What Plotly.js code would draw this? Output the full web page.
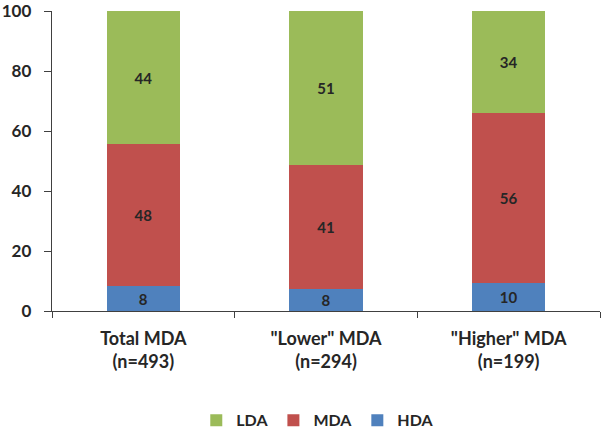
<!DOCTYPE html>
<html><head><meta charset="utf-8">
<script src="https://cdn.plot.ly/plotly-3.0.1.min.js"></script>
<style>html,body{margin:0;padding:0;background:#fff}</style>
</head><body>
<div id="chart" style="width:606px;height:428px"></div>
<script>
const categories = ['Total MDA<br>(n=493)', '"Lower" MDA<br>(n=294)', '"Higher" MDA<br>(n=199)'];
const hda = [8.3, 7.4, 9.4];
const mda = [47.3, 41.3, 56.6];
const lda = [44.4, 51.3, 34.0];
const hdaLabels = ['8', '8', '10'];
const mdaLabels = ['48', '41', '56'];
const ldaLabels = ['44', '51', '34'];
const yTicks = [0, 20, 40, 60, 80, 100];

const font = 'Lato, "Open Sans", "Liberation Sans", sans-serif';
function tr(name, y, labels, color) {
  return {
    type: 'bar', name: name, x: categories, y: y, text: labels,
    textposition: 'inside', insidetextanchor: 'middle', textangle: 0,
    constraintext: 'none',
    textfont: {family: font, size: 15, color: '#262626', weight: 'bold'},
    marker: {color: color, line: {width: 0}},
    hoverinfo: 'none'
  };
}
const data = [
  tr('HDA', hda, hdaLabels, '#4F81BD'),
  tr('MDA', mda, mdaLabels, '#C0504D'),
  tr('LDA', lda, ldaLabels, '#9BBB59')
];
const layout = {
  width: 606, height: 428,
  margin: {l: 52, r: 6, t: 11, b: 117, autoexpand: false},
  barmode: 'stack', bargap: 0.6,
  paper_bgcolor: '#fff', plot_bgcolor: '#fff',
  font: {family: font, color: '#262626'},
  showlegend: true,
  legend: {orientation: 'h', xref: 'paper', x: 0.485, xanchor: 'center',
    yref: 'container', y: 0.018, yanchor: 'middle',
    traceorder: 'reversed', font: {size: 16, weight: 'bold', family: font},
    itemwidth: 30},
  xaxis: {
    showline: true, linecolor: '#404040', linewidth: 1.3, showgrid: false,
    ticks: 'outside', tickson: 'boundaries', ticklen: 6, tickcolor: '#404040',
    ticklabelstandoff: 11,
    tickfont: {size: 18, weight: 'bold', family: font},
    fixedrange: true
  },
  yaxis: {
    range: [0, 100], tickmode: 'array', tickvals: yTicks, ticktext: yTicks.map(String),
    showgrid: false, zeroline: false,
    showline: true, linecolor: '#404040', linewidth: 1.3,
    ticks: 'outside', ticklen: 7, tickcolor: '#404040',
    ticklabelstandoff: 9, ticklabeloverflow: 'allow',
    tickfont: {size: 17, weight: 'bold', family: font},
    fixedrange: true
  }
};
Plotly.newPlot('chart', data, layout, {displayModeBar: false, staticPlot: true});
</script>
</body></html>
